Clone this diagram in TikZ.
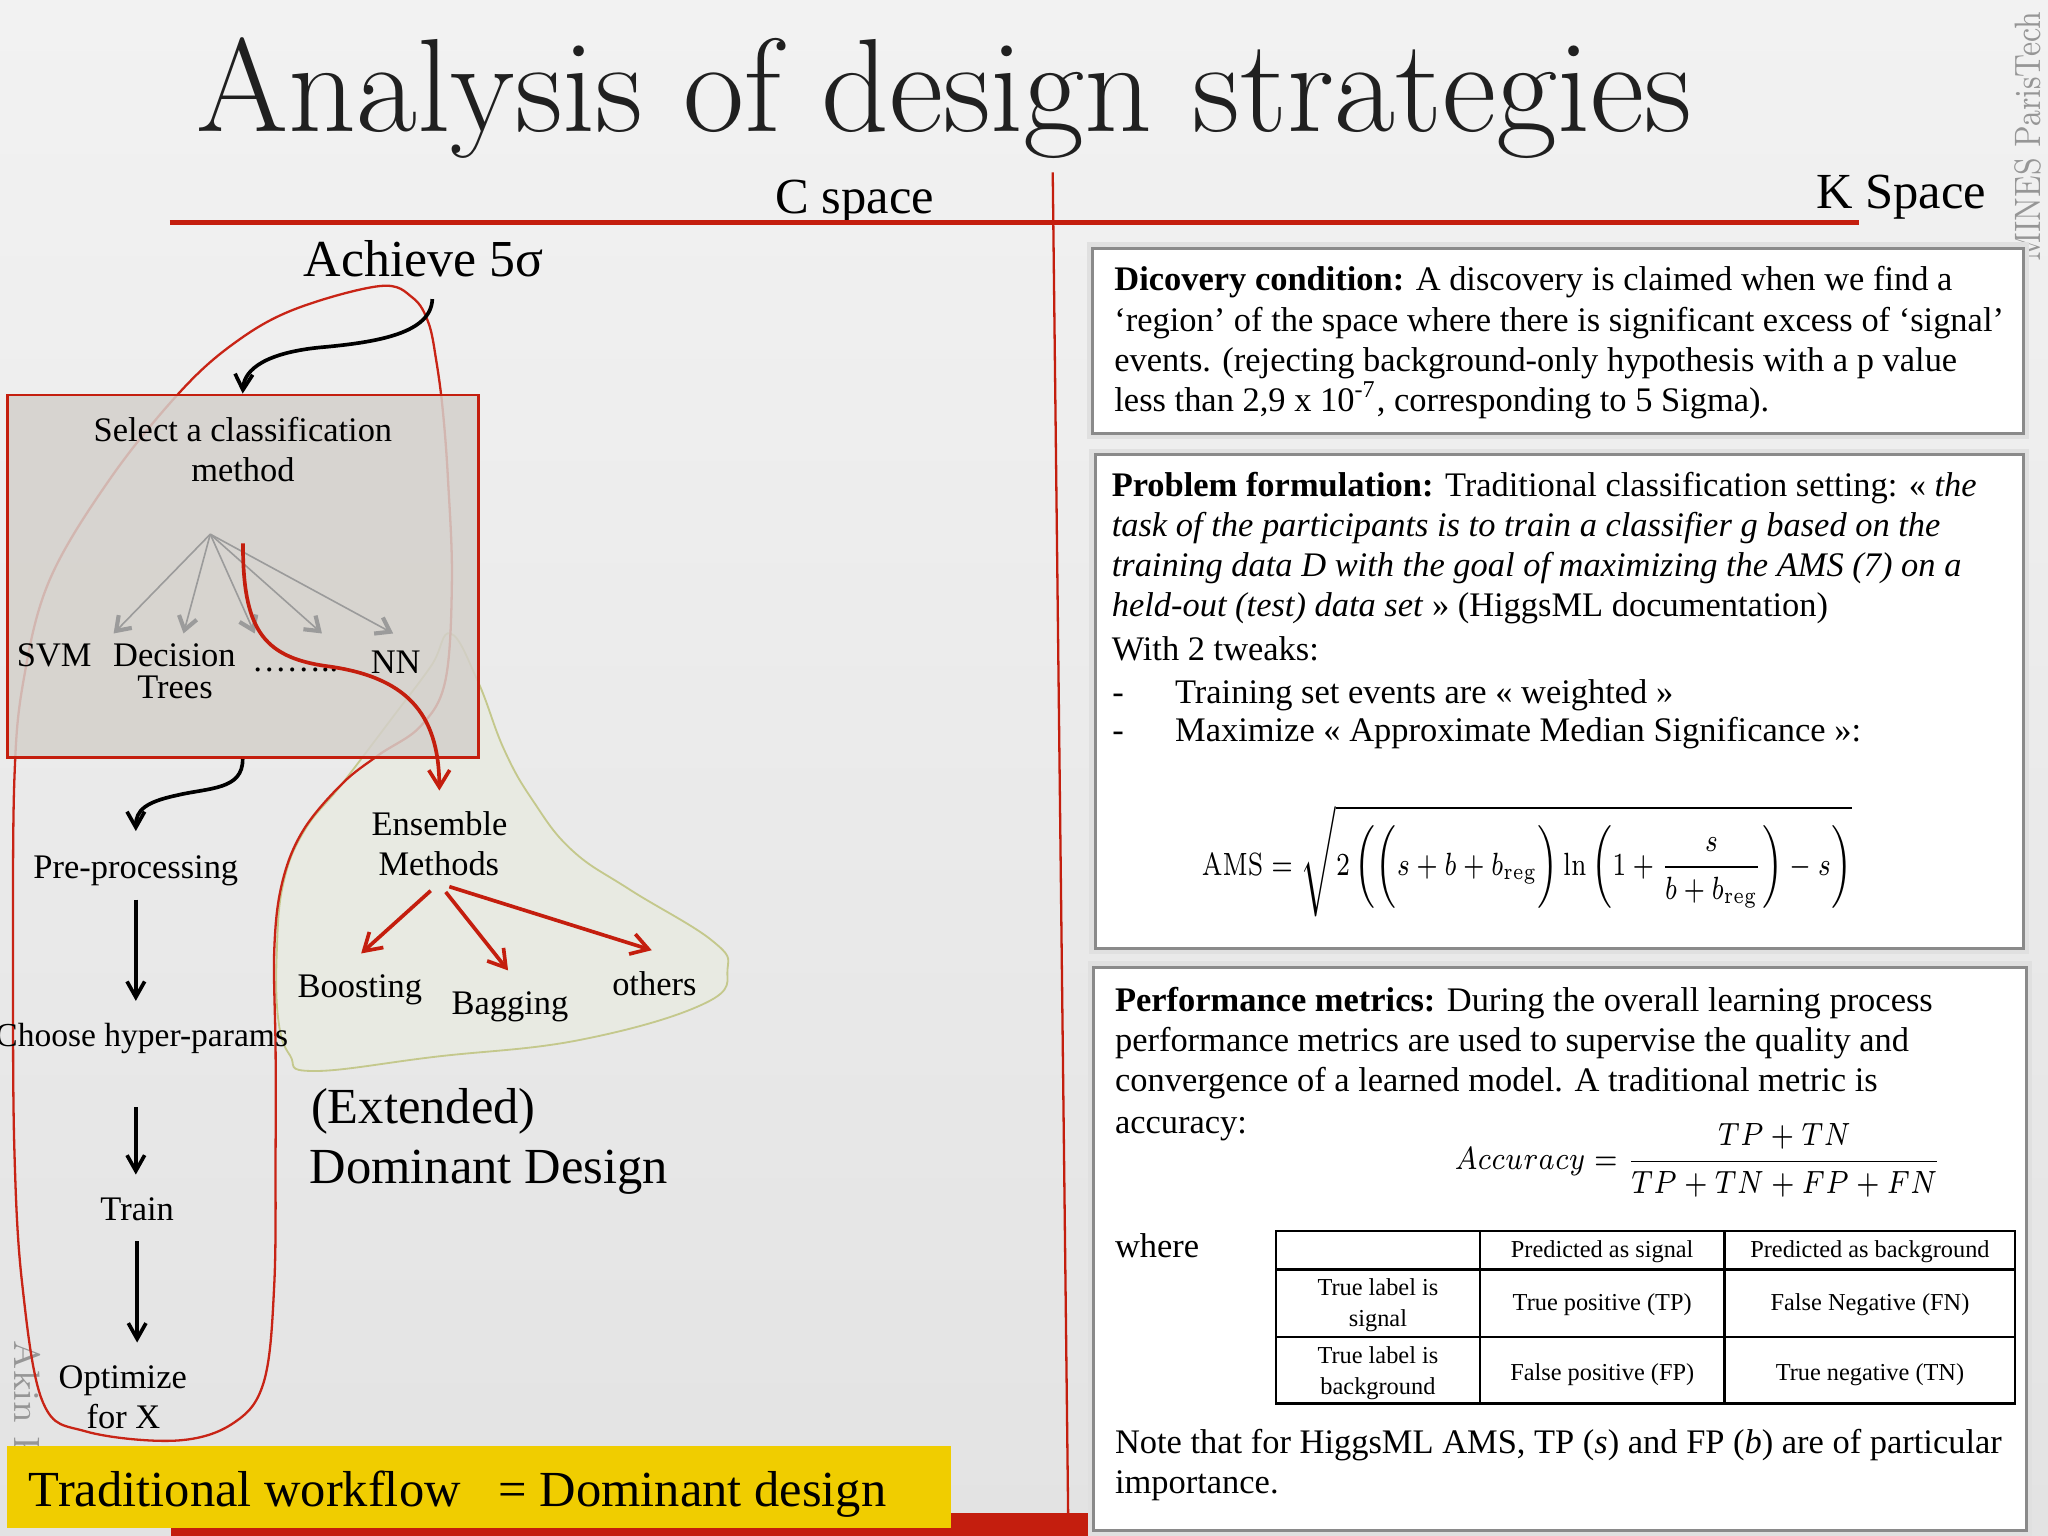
\documentclass[tikz,border=0pt]{standalone}
\usepackage{graphicx}
\usepackage{fontspec}
\newfontfamily\tnr{Liberation Serif}
\usetikzlibrary{arrows.meta}
\definecolor{myred}{RGB}{196,30,14}
\definecolor{loopred}{RGB}{200,36,22}
\definecolor{boxfill}{RGB}{212,208,203}
\definecolor{ensfill}{RGB}{232,234,226}
\definecolor{ensline}{RGB}{196,200,140}
\definecolor{ylw}{RGB}{240,205,0}
\definecolor{bg1}{RGB}{242,242,242}
\definecolor{bg2}{RGB}{227,227,227}
\definecolor{wm}{RGB}{150,150,150}
\definecolor{fangray}{RGB}{155,155,155}
\definecolor{boxline}{RGB}{138,138,138}
\definecolor{titlecol}{RGB}{32,32,32}
\begin{document}
\begin{tikzpicture}[x=0.01cm,y=-0.01cm,
  lbl/.style={font=\tnr\fontsize{7.5}{9}\selectfont, inner sep=0pt, anchor=base, text height=5.2pt, text depth=1.6pt},
  big/.style={font=\tnr\fontsize{11}{13}\selectfont, inner sep=0pt, anchor=base west},
  rt/.style={font=\tnr\fontsize{7.5}{9}\selectfont, inner sep=0pt, anchor=base west},
  tb/.style={font=\tnr\fontsize{5.3}{6.9}\selectfont, inner sep=0pt, anchor=base},
  blk/.style={line width=0.8pt, -{Straight Barb[length=1.2mm,width=1.35mm]}},
  redarr/.style={myred, line width=0.8pt, -{Straight Barb[length=1.3mm,width=1.6mm]}},
  fanarr/.style={fangray, line width=0.35pt, -{Straight Barb[length=1mm,width=1.4mm,line width=0.9pt]}},
  kbox/.style={draw=boxline, line width=0.65pt, fill=white, inner sep=0pt},
  halo/.style={draw=black!12, line width=2.6pt},
]
\useasboundingbox (0,0) rectangle (1568,1176);
\shade[top color=bg1, bottom color=bg2] (0,0) rectangle (1568,1176);

% watermarks
\node[font=\fontsize{8}{9}\selectfont, text=wm, rotate=90, anchor=base west, inner sep=0pt] (mines) at (1562,201) {\resizebox{1.91cm}{\height}{MINES ParisTech}};
\node[font=\fontsize{8}{9}\selectfont, text=wm, rotate=-90, anchor=base west, inner sep=0pt] (akin) at (11,1026) {Akin Ka};

% title and headers
\node[font=\fontsize{28.9}{32}\selectfont, text=titlecol, anchor=base west, inner sep=0pt] (title) at (150,101) {Analysis of design strategies};
\node[big] (cspace) at (593,163.4) {C space};
\node[big] (kspace) at (1390,159.5) {K Space};
\draw[myred, line width=1.16pt] (130,170.5) -- (1423,170.5);
\draw[myred, line width=0.5pt] (806,132) -- (818,1176);
\fill[myred] (130.6,1158.6) rectangle (1425,1176);

% ensemble region
\filldraw[fill=ensfill, draw=ensline, line width=0.4pt] plot[smooth cycle, tension=0.7] coordinates {(345,485) (366,522) (386,574) (408,613) (438,651) (482,681) (545,720) (557,742) (540,768) (445,796) (334,809) (240,820) (222,808) (213,780) (212,727) (217,676) (233,636) (262,600) (300,550) (330,510)};

% traditional workflow loop
\draw[loopred, line width=0.5pt] plot[smooth cycle, tension=0.6] coordinates {(291,219) (316,228) (328,247) (334,276) (339,314) (343,367) (346,444) (341,521) (322,556) (290,578) (262,600) (232,636) (216,676) (210,727) (211,804) (211,880) (210,983) (202,1058) (178,1090) (134,1103) (66,1096) (33,1074) (17,983) (11,880) (10,740) (11,597) (18,521) (38,444) (84,367) (137,301) (179,263) (225,237)};

% select box
\node[draw=myred, line width=0.6pt, fill=boxfill, fill opacity=0.85, minimum width=3.604cm, minimum height=2.775cm, inner sep=0pt] (selbox) at (185.8,441.25) {};
\node[lbl] (sel1) at (186,338) {Select a classification};
\node[lbl] (sel2) at (186,369) {method};

\node[font=\tnr\fontsize{11.3}{13}\selectfont, inner sep=0pt, anchor=base west] (achieve) at (232,211.8) {Achieve 5σ};
\coordinate (achout) at (331,229);
\draw[blk] (achout) .. controls (330,255) and (290,262) .. (245,266) .. controls (205,270) and (187,282) .. (selbox.north);

% fan of classifiers
\coordinate (fan) at (161,409);
\coordinate (t1) at (87,485);
\coordinate (t2) at (140.5,485);
\coordinate (t3) at (195,485);
\coordinate (t4) at (246.5,485);
\coordinate (t5) at (301,485);
\foreach \t in {t1,t2,t3,t4,t5} \draw[fanarr] (fan) -- (\t);
\node[lbl] (svm) at (41.5,510.5) {SVM};
\node[lbl] (dec) at (133.5,510.5) {Decision};
\node[lbl] (trees) at (134,534.6) {Trees};
\node[lbl] (dots) at (226,514) {……..};
\node[lbl] (nn) at (303,515.5) {NN};

% ensemble
\node[lbl] (ens) at (336.5,639.5) {Ensemble};
\node[lbl] (methods) at (336,670) {Methods};
\coordinate (nnstart) at (186,416);
\draw[redarr, shorten >=1.52mm] (nnstart) .. controls (186,480) and (200,503) .. (250,510) .. controls (310,518) and (336,545) .. (ens.north);
\node[lbl] (boost) at (275.5,764) {Boosting};
\node[lbl] (bag) at (390.5,777) {Bagging};
\node[lbl] (others) at (501,762) {others};
\coordinate (tboost) at (276.5,730);
\coordinate (tbag) at (389,743);
\coordinate (toth) at (499,727.5);
\draw[redarr, shorten <=0.84mm] (methods.south) -- (tboost);
\draw[redarr, shorten <=0.84mm] (methods.south) -- (tbag);
\draw[redarr, shorten <=0.84mm] (methods.south) -- (toth);

% workflow column
\node[lbl] (pre) at (104,672.5) {Pre-processing};
\node[lbl, font=\tnr\fontsize{7.3}{9}\selectfont] (choose) at (108.5,801) {Choose hyper-params};
\node[lbl] (train) at (105,934.6) {Train};
\node[lbl] (optim) at (94,1063) {Optimize};
\node[lbl] (forx) at (94.5,1093.5) {for X};
\draw[blk, shorten >=1.72mm] (selbox.south) .. controls (186,605) and (160,603) .. (135,609) .. controls (112,614) and (104,620) .. (pre.north);
\draw[blk, shorten <=0.99mm, shorten >=1.57mm] (pre.south) -- (pre.south |- choose.north);
\draw[blk, shorten <=4.04mm, shorten >=1.63mm] (pre.south |- choose.south) -- (pre.south |- train.north);
\draw[blk, shorten <=0.93mm, shorten >=1.61mm] (train.south) -- (train.south |- optim.north);

\node[big] (ext) at (237.5,860) {(Extended)};
\node[big] (domd) at (236.5,906) {Dominant Design};

% right boxes
\draw[halo] (836.6,190) rectangle (1549,331.6);
\draw[halo] (838.6,348.4) rectangle (1549,726);
\draw[halo] (837.4,740.7) rectangle (1551,1171.5);
\node[kbox, minimum width=7.124cm, minimum height=1.416cm] (box1) at (1192.8,260.8) {};
\node[kbox, minimum width=7.104cm, minimum height=3.776cm] (box2) at (1193.8,537.2) {};
\node[kbox, minimum width=7.136cm, minimum height=4.308cm] (box3) at (1194.2,956.1) {};

\node[rt] (b1a) at (852.5,222.6) {\textbf{Dicovery condition:} A discovery is claimed when we find a};
\node[rt] (b1b) at (852.5,253.5) {‘region’ of the space where there is significant excess of ‘signal’};
\node[rt] (b1c) at (852.5,284.4) {events. (rejecting background-only hypothesis with a p value};
\node[rt] (b1d) at (852.5,315.3) {less than 2,9 x 10\textsuperscript{-7}, corresponding to 5 Sigma).};

\node[rt] (b2a) at (850.5,380.3) {\textbf{Problem formulation:} Traditional classification setting: « \textit{the}};
\node[rt] (b2b) at (850.5,411) {\textit{task of the participants is to train a classifier g based on the}};
\node[rt] (b2c) at (850.5,441.6) {\textit{training data D with the goal of maximizing the AMS (7) on a}};
\node[rt] (b2d) at (850.5,472) {\textit{held-out (test) data set} » (HiggsML documentation)};
\node[rt] (b2e) at (850.5,505.4) {With 2 tweaks:};
\node[rt] (b2f1) at (851,538.5) {-};
\node[rt] (b2f) at (899,538.5) {Training set events are « weighted »};
\node[rt] (b2g1) at (851,568) {-};
\node[rt] (b2g) at (899,568) {Maximize « Approximate Median Significance »:};
\node[anchor=base west, inner sep=0pt, font=\fontsize{7}{8}\selectfont] (ams) at (919.5,670) {\resizebox{4.975cm}{\height}{$\displaystyle \mathrm{AMS}=\sqrt{2\left(\Bigl(s+b+b_{\mathrm{reg}}\Bigr)\ln\left(1+\frac{s}{b+b_{\mathrm{reg}}}\right)-s\right)}$}};

\node[rt] (b3a) at (853,774.6) {\textbf{Performance metrics:} During the overall learning process};
\node[rt] (b3b) at (853,805.3) {performance metrics are used to supervise the quality and};
\node[rt] (b3c) at (853,835.6) {convergence of a learned model. A traditional metric is};
\node[rt] (b3d) at (853,867.8) {accuracy:};
\node[anchor=base west, inner sep=0pt, font=\fontsize{7.3}{8}\selectfont] (acc) at (1113,895.4) {\resizebox{3.73cm}{\height}{$\displaystyle Accuracy=\frac{TP+TN}{TP+TN+FP+FN}$}};
\node[rt] (where) at (853,963) {where};

% table
\draw[line width=0.5pt] (977,942.3) rectangle (1543,1074.5);
\draw[line width=0.5pt] (977,972) -- (1543,972) (977,1023.5) -- (1543,1023.5) (1133,942.3) -- (1133,1074.5) (1320.4,942.3) -- (1320.4,1074.5);
\node[tb] (h1) at (1226.7,962.7) {Predicted as signal};
\node[tb] (h2) at (1431.7,962.7) {Predicted as background};
\node[tb] (r1a) at (1055,991.6) {True label is};
\node[tb] (r1b) at (1055,1015.8) {signal};
\node[tb] (tp) at (1226.7,1003) {True positive (TP)};
\node[tb] (fn) at (1431.7,1003) {False Negative (FN)};
\node[tb] (r2a) at (1055,1043.9) {True label is};
\node[tb] (r2b) at (1055,1068) {background};
\node[tb] (fp) at (1226.7,1056.7) {False positive (FP)};
\node[tb] (tn) at (1431.7,1056.7) {True negative (TN)};

\node[rt] (note1) at (853,1112.8) {Note that for HiggsML AMS, TP (\textit{s}) and FP (\textit{b}) are of particular};
\node[rt] (note2) at (853,1143.5) {importance.};

% yellow banner
\fill[ylw] (5.4,1107) rectangle (728,1170);
\node[big] (banner) at (21.5,1153.6) {Traditional workflow~~~= Dominant design};
\end{tikzpicture}
\end{document}
